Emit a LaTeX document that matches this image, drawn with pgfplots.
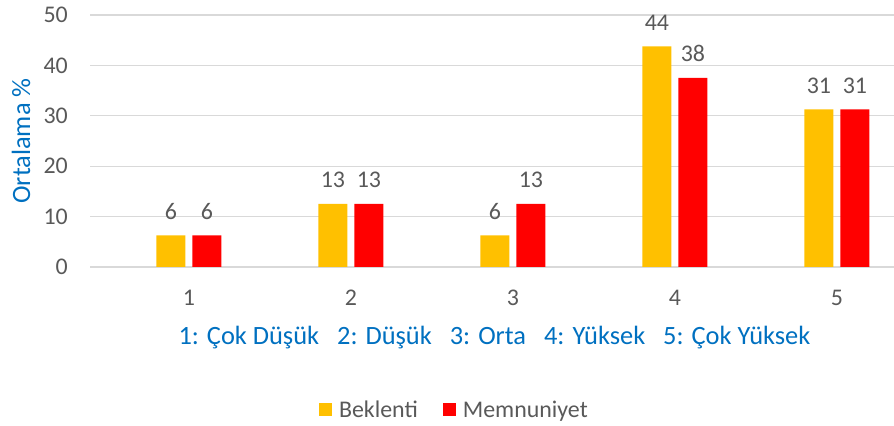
\documentclass[border=0pt]{standalone}
\usepackage{pgfplots}
\pgfplotsset{compat=1.18}
\usepackage{pgfplotstable}
\usepackage{fontspec}
\setmainfont{Carlito}
\definecolor{cYel}{HTML}{FFC000}
\definecolor{cRed}{HTML}{FF0000}
\definecolor{cTxt}{HTML}{595959}
\definecolor{cBlue}{HTML}{0070C0}
\definecolor{cGrid}{HTML}{D9D9D9}
\pgfplotstableread{
x y lab
1 6.25 6
2 12.5 13
3 6.25 6
4 43.75 44
5 31.25 31
}\beklenti
\pgfplotstableread{
x y lab
1 6.25 6
2 12.5 13
3 12.5 13
4 37.5 38
5 31.25 31
}\memnuniyet
\begin{document}
\begin{tikzpicture}
\useasboundingbox (0,0) rectangle (894bp,426bp);
\begin{axis}[
  at={(90bp,159bp)}, anchor=south west,
  scale only axis, width=804bp, height=252bp,
  ybar=7bp, bar width=29bp,
  xmin=0.389, xmax=5.352,
  ymin=0, ymax=50,
  ytick={0,10,...,50},
  xtick={1,2,3,4,5},
  axis line style={draw=none},
  major tick length=0pt,
  ymajorgrids, grid style={cGrid, line width=1.2bp},
  /pgf/number format/assume math mode=true,
  tick label style={font=\fontsize{24}{28}\selectfont, text=cTxt},
  xticklabel style={anchor=center, inner sep=0pt, yshift=-31bp},
  yticklabel style={anchor=east, inner sep=0pt, xshift=-22bp},
  ylabel={Ortalama \%},
  ylabel style={at={(axis description cs:-0.0858,0.5)}, anchor=center, font=\fontsize{26.5}{31}\selectfont, text=cBlue},
  xlabel={1: Çok Düşük\hspace*{12bp} 2: Düşük\hspace*{12bp} 3: Orta\hspace*{12bp} 4: Yüksek\hspace*{12bp} 5: Çok Yüksek},
  xlabel style={at={(axis description cs:0.503,-0.2817)}, anchor=center, font=\fontsize{26.5}{31}\selectfont, text=cBlue},
  nodes near coords,
  point meta=explicit symbolic,
  every node near coord/.append style={font=\fontsize{24}{28}\selectfont, text=cTxt, inner sep=0pt, anchor=south, yshift=16bp},
  legend style={at={(axis description cs:0.452,-0.567)}, anchor=center, draw=none, fill=none,
    font=\fontsize{24}{28}\selectfont, text=cTxt,
    nodes={inner sep=0pt},
    /tikz/every odd column/.append style={column sep=7bp},
    /tikz/every even column/.append style={column sep=25bp}},
  legend columns=2,
  legend image code/.code={\fill[#1,draw=none] (0bp,-6.5bp) rectangle (13bp,6.5bp);},
]
\addplot[fill=cYel, draw=none] table[x=x, y=y, meta=lab] {\beklenti};
\addplot[fill=cRed, draw=none] table[x=x, y=y, meta=lab] {\memnuniyet};
\legend{Beklenti, Memnuniyet}
\end{axis}
\end{tikzpicture}
\end{document}
